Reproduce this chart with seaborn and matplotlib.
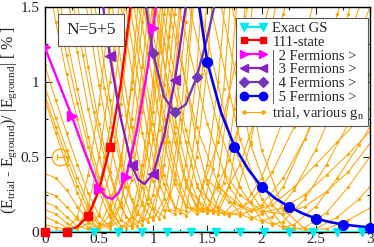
import matplotlib
matplotlib.use('Agg')
import matplotlib.pyplot as plt
import seaborn as sns
import pandas as pd
from matplotlib.lines import Line2D

# exact ground state (all on zero)
gs_x = [0, 0.225, 0.45, 0.675, 0.9, 1.125, 1.35, 1.575, 1.8, 2.025, 2.25, 2.475, 2.7, 2.925]
gs_y = [0] * len(gs_x)

# 111-state
s111_x = [0, 0.2, 0.4, 0.6]
s111_y = [0, 0.003, 0.11, 0.57]
s111_line_x = [0, 0.1, 0.2, 0.3, 0.4, 0.5, 0.6, 0.7, 0.8]
s111_line_y = [0, 0, 0.003, 0.035, 0.11, 0.28, 0.57, 0.98, 1.56]

# |2 Fermions>
f2_x = [0, 0.25, 0.5, 0.75, 1.0]
f2_y = [1.23, 0.77, 0.29, 0.37, 1.36]
f2_line_x = [0, 0.125, 0.25, 0.375, 0.5, 0.56, 0.62, 0.68, 0.75, 0.85, 0.95, 1.0, 1.05]
f2_line_y = [1.23, 1.0, 0.77, 0.52, 0.29, 0.235, 0.22, 0.26, 0.37, 0.68, 1.1, 1.36, 1.65]

# |3 Fermions>
f3_x = [0.6, 0.8, 1.0, 1.2]
f3_y = [1.17, 0.45, 0.39, 1.01]
f3_line_x = [0.52, 0.6, 0.7, 0.8, 0.86, 0.92, 1.0, 1.1, 1.2, 1.3, 1.33]
f3_line_y = [1.6, 1.17, 0.76, 0.45, 0.35, 0.32, 0.39, 0.64, 1.01, 1.5, 1.65]

# |4 Fermions>
f4_x = [1.0, 1.2, 1.4]
f4_y = [1.19, 0.80, 1.03]
f4_line_x = [0.9, 1.0, 1.1, 1.2, 1.3, 1.4, 1.5, 1.6]
f4_line_y = [1.65, 1.19, 0.9, 0.80, 0.85, 1.03, 1.3, 1.62]

# |5 Fermions>
f5_x = [1.5, 1.75, 2.0, 2.25, 2.5, 2.75, 3.0]
f5_y = [1.13, 0.57, 0.30, 0.17, 0.09, 0.05, 0.03]
f5_line_x = [1.4, 1.5, 1.625, 1.75, 1.875, 2.0, 2.125, 2.25, 2.375, 2.5, 2.625, 2.75, 2.875, 3.0]
f5_line_y = [1.62, 1.13, 0.8, 0.57, 0.42, 0.30, 0.225, 0.17, 0.125, 0.09, 0.067, 0.05, 0.04, 0.03]

trial_left = [
    [(0, 0.39), (0.1, 0.36), (0.2, 0.28), (0.3, 0.17), (0.4, 0.07), (0.5, 0.02), (0.6, 0.05), (0.7, 0.2), (0.8, 0.5), (0.9, 0.95), (1.0, 1.55)],
    [(0, 0.27), (0.1, 0.24), (0.2, 0.17), (0.3, 0.09), (0.4, 0.03), (0.5, 0.04), (0.6, 0.18), (0.7, 0.48), (0.8, 0.95), (0.9, 1.55)],
    [(0, 0.2), (0.1, 0.17), (0.2, 0.1), (0.3, 0.04), (0.4, 0.02), (0.5, 0.12), (0.6, 0.4), (0.7, 0.85), (0.8, 1.5)],
    [(0, 0.15), (0.1, 0.12), (0.2, 0.06), (0.3, 0.02), (0.4, 0.06), (0.5, 0.28), (0.6, 0.7), (0.7, 1.3), (0.75, 1.6)],
    [(0, 0.1), (0.1, 0.07), (0.2, 0.03), (0.3, 0.03), (0.4, 0.17), (0.5, 0.5), (0.6, 1.0), (0.7, 1.6)],
    [(0, 0.05), (0.1, 0.03), (0.2, 0.02), (0.3, 0.1), (0.4, 0.38), (0.5, 0.85), (0.6, 1.5)],
    [(0, 1.11), (0.1, 0.88), (0.2, 0.66), (0.3, 0.45), (0.4, 0.26), (0.5, 0.11), (0.6, 0.03), (0.7, 0.08), (0.8, 0.35), (0.9, 0.8), (1.0, 1.45), (1.05, 1.8)],
    [(0, 0.97), (0.1, 0.76), (0.2, 0.55), (0.3, 0.36), (0.4, 0.19), (0.5, 0.06), (0.6, 0.02), (0.7, 0.18), (0.8, 0.55), (0.9, 1.1), (0.97, 1.6)],
    [(0, 0.91), (0.1, 0.7), (0.2, 0.5), (0.3, 0.31), (0.4, 0.15), (0.5, 0.04), (0.6, 0.06), (0.7, 0.3), (0.8, 0.75), (0.9, 1.4), (0.93, 1.6)],
    [(0, 0.88), (0.1, 0.66), (0.2, 0.45), (0.3, 0.26), (0.4, 0.1), (0.5, 0.02), (0.6, 0.12), (0.7, 0.45), (0.8, 1.0), (0.87, 1.6)],
]
trial_mid = [
    [(0.05, 1.6), (0.1, 1.4), (0.2, 1.05), (0.3, 0.75), (0.4, 0.48), (0.5, 0.27), (0.6, 0.1), (0.7, 0.02), (0.8, 0.1), (0.9, 0.45), (1.0, 1.0), (1.08, 1.6)],
    [(0.09, 1.6), (0.2, 1.18), (0.3, 0.86), (0.4, 0.57), (0.5, 0.33), (0.6, 0.15), (0.7, 0.04), (0.75, 0.03), (0.85, 0.18), (0.95, 0.6), (1.05, 1.2), (1.1, 1.6)],
    [(0.12, 1.6), (0.2, 1.3), (0.3, 0.95), (0.4, 0.63), (0.5, 0.37), (0.6, 0.17), (0.7, 0.04), (0.8, 0.04), (0.9, 0.3), (1.0, 0.8), (1.1, 1.45), (1.13, 1.6)],
    [(0.2, 1.6), (0.3, 1.2), (0.4, 0.82), (0.5, 0.5), (0.6, 0.25), (0.7, 0.08), (0.8, 0.03), (0.9, 0.2), (1.0, 0.62), (1.1, 1.25), (1.15, 1.6)],
    [(0.24, 1.6), (0.35, 1.18), (0.45, 0.8), (0.55, 0.5), (0.65, 0.26), (0.75, 0.1), (0.85, 0.04), (0.95, 0.22), (1.05, 0.68), (1.15, 1.3), (1.19, 1.6)],
    [(0.28, 1.6), (0.4, 1.1), (0.5, 0.72), (0.6, 0.4), (0.7, 0.17), (0.8, 0.05), (0.9, 0.08), (1.0, 0.4), (1.1, 0.98), (1.18, 1.6)],
    [(0.36, 1.6), (0.5, 0.98), (0.6, 0.6), (0.7, 0.3), (0.8, 0.1), (0.9, 0.05), (1.0, 0.25), (1.1, 0.75), (1.2, 1.45), (1.22, 1.6)],
    [(0.4, 1.6), (0.55, 0.96), (0.65, 0.6), (0.75, 0.3), (0.85, 0.12), (0.95, 0.07), (1.05, 0.3), (1.15, 0.85), (1.25, 1.55)],
    [(0.44, 1.6), (0.6, 0.88), (0.7, 0.5), (0.8, 0.22), (0.9, 0.08), (1.0, 0.1), (1.1, 0.45), (1.2, 1.05), (1.27, 1.6)],
    [(0.52, 1.6), (0.7, 0.78), (0.8, 0.42), (0.9, 0.18), (1.0, 0.08), (1.1, 0.22), (1.2, 0.7), (1.3, 1.4), (1.32, 1.6)],
    [(0.56, 1.6), (0.75, 0.78), (0.85, 0.42), (0.95, 0.19), (1.05, 0.09), (1.15, 0.25), (1.25, 0.75), (1.35, 1.45), (1.37, 1.6)],
    [(0.6, 1.6), (0.8, 0.7), (0.9, 0.38), (1.0, 0.16), (1.1, 0.1), (1.2, 0.35), (1.3, 0.9), (1.38, 1.6)],
    [(0.68, 1.6), (0.9, 0.66), (1.0, 0.34), (1.1, 0.15), (1.2, 0.12), (1.3, 0.45), (1.4, 1.05), (1.45, 1.6)],
    [(0.72, 1.6), (0.95, 0.66), (1.05, 0.34), (1.15, 0.15), (1.25, 0.13), (1.35, 0.45), (1.45, 1.05), (1.5, 1.6)],
    [(0.76, 1.6), (1.0, 0.62), (1.1, 0.32), (1.2, 0.16), (1.3, 0.14), (1.4, 0.5), (1.5, 1.1), (1.55, 1.6)],
    [(0.84, 1.6), (1.1, 0.6), (1.2, 0.32), (1.3, 0.17), (1.4, 0.14), (1.5, 0.45), (1.6, 1.0), (1.67, 1.6)],
    [(0.88, 1.6), (1.15, 0.6), (1.25, 0.32), (1.35, 0.16), (1.45, 0.14), (1.55, 0.42), (1.65, 0.95), (1.72, 1.6)],
    [(0.92, 1.6), (1.2, 0.6), (1.3, 0.32), (1.4, 0.16), (1.5, 0.13), (1.6, 0.38), (1.7, 0.9), (1.78, 1.6)],
    [(0.96, 1.6), (1.25, 0.6), (1.35, 0.32), (1.45, 0.16), (1.55, 0.13), (1.65, 0.33), (1.75, 0.82), (1.85, 1.5), (1.87, 1.6)],
    [(1.0, 1.6), (1.3, 0.6), (1.4, 0.32), (1.5, 0.16), (1.6, 0.12), (1.7, 0.3), (1.8, 0.75), (1.9, 1.4), (1.93, 1.6)],
    [(0.8, 1.6), (1.0, 0.72), (1.1, 0.38), (1.2, 0.17), (1.3, 0.11), (1.4, 0.18), (1.6, 0.6), (1.8, 1.25), (1.9, 1.6)],
    [(0.9, 1.6), (1.1, 0.7), (1.2, 0.38), (1.3, 0.18), (1.4, 0.12), (1.5, 0.16), (1.7, 0.48), (1.9, 1.0), (2.1, 1.6)],
    [(1.0, 1.6), (1.2, 0.66), (1.3, 0.35), (1.4, 0.17), (1.5, 0.13), (1.6, 0.17), (1.8, 0.45), (2.0, 0.88), (2.2, 1.45), (2.25, 1.6)],
    [(1.05, 1.6), (1.3, 0.68), (1.45, 0.3), (1.55, 0.15), (1.65, 0.12), (1.75, 0.2), (1.9, 0.6), (2.05, 1.15), (2.15, 1.6)],
    [(1.15, 1.6), (1.4, 0.6), (1.5, 0.32), (1.6, 0.16), (1.7, 0.11), (1.8, 0.13), (2.0, 0.36), (2.2, 0.75), (2.4, 1.28), (2.5, 1.6)],
]
trial_right = [
    [(1.1, 1.6), (1.4, 0.7), (1.6, 0.32), (1.8, 0.12), (1.9, 0.09), (2.0, 0.12), (2.2, 0.3), (2.4, 0.62), (2.6, 1.0), (2.8, 1.45), (2.85, 1.6)],
    [(1.2, 1.6), (1.5, 0.72), (1.7, 0.3), (1.9, 0.1), (2.0, 0.07), (2.1, 0.1), (2.3, 0.28), (2.5, 0.55), (2.7, 0.88), (2.9, 1.3), (3.0, 1.5)],
    [(1.3, 1.6), (1.6, 0.7), (1.8, 0.3), (2.0, 0.08), (2.1, 0.05), (2.2, 0.07), (2.4, 0.22), (2.6, 0.45), (2.8, 0.72), (3.0, 1.05)],
    [(1.4, 1.6), (1.7, 0.66), (1.9, 0.26), (2.1, 0.06), (2.2, 0.03), (2.3, 0.05), (2.5, 0.17), (2.7, 0.36), (2.9, 0.58), (3.0, 0.7)],
    [(1.5, 1.6), (1.8, 0.62), (2.0, 0.22), (2.2, 0.04), (2.3, 0.02), (2.4, 0.03), (2.6, 0.13), (2.8, 0.3), (3.0, 0.5)],
    [(1.6, 1.6), (1.9, 0.58), (2.1, 0.18), (2.3, 0.03), (2.4, 0.01), (2.5, 0.02), (2.7, 0.1), (2.9, 0.22), (3.0, 0.3)],
    [(1.7, 1.6), (2.0, 0.55), (2.2, 0.15), (2.4, 0.02), (2.6, 0.02), (2.8, 0.08), (3.0, 0.16)],
    [(1.3, 0.3), (1.5, 0.15), (1.7, 0.12), (1.9, 0.2), (2.1, 0.4), (2.3, 0.7), (2.5, 1.05), (2.7, 1.45), (2.75, 1.6)],
    [(1.4, 0.3), (1.6, 0.15), (1.8, 0.11), (2.0, 0.18), (2.2, 0.36), (2.4, 0.62), (2.6, 0.92), (2.8, 1.28), (2.95, 1.6)],
    [(1.5, 0.35), (1.7, 0.2), (1.9, 0.14), (2.1, 0.18), (2.3, 0.3), (2.5, 0.45), (2.7, 0.6), (2.9, 0.75), (3.0, 0.82)],
    [(1.6, 0.3), (1.8, 0.18), (2.0, 0.13), (2.2, 0.16), (2.4, 0.25), (2.6, 0.38), (2.8, 0.52), (3.0, 0.67)],
    [(1.65, 0.4), (1.8, 0.25), (2.0, 0.14), (2.2, 0.12), (2.4, 0.17), (2.6, 0.27), (2.8, 0.4), (3.0, 0.59)],
]

orange = '#ffa500'
cyan = '#00e8f0'
magenta = '#ff00ff'
violet = '#8a1ecb'
purple = '#7236b8'
blue = '#0000ff'

sns.set_style('ticks')
plt.rcParams['font.family'] = ['Liberation Serif', 'DejaVu Serif']
plt.rcParams['mathtext.fontset'] = 'custom'
plt.rcParams['mathtext.rm'] = 'Liberation Serif'
plt.rcParams['mathtext.it'] = 'Liberation Serif:italic'
plt.rcParams['font.size'] = 9

fig = plt.figure(figsize=(3.74, 2.47), dpi=100)
ax = fig.add_axes([0.120, 0.0607, 0.869, 0.911])

rows = []
for i, curve in enumerate(trial_left + trial_mid + trial_right):
    for x, y in curve:
        rows.append((i, x, y))
trial = pd.DataFrame(rows, columns=['curve', 'g', 'dE'])
sns.lineplot(data=trial, x='g', y='dE', units='curve', estimator=None, sort=False,
             color=orange, lw=0.75, marker='o', ms=2.3, mec=orange, mew=0,
             legend=False, ax=ax, zorder=1)

# circled error bar symbol
ax.errorbar([0.14], [0.5], xerr=[0.032], fmt='none', ecolor=orange, elinewidth=0.9,
            capsize=2.5, capthick=0.9, zorder=2)
ax.plot([0.14], [0.5], 'o', mfc='none', mec=orange, ms=12, mew=0.9, zorder=2)

sns.lineplot(x=s111_line_x, y=s111_line_y, sort=False, color='red', lw=1.7, ax=ax, zorder=4)
sns.lineplot(x=f2_line_x, y=f2_line_y, sort=False, color=magenta, lw=1.7, ax=ax, zorder=4)
sns.lineplot(x=f3_line_x, y=f3_line_y, sort=False, color=violet, lw=1.7, ax=ax, zorder=4)
sns.lineplot(x=f4_line_x, y=f4_line_y, sort=False, color=purple, lw=1.7, ax=ax, zorder=4)
sns.lineplot(x=f5_line_x, y=f5_line_y, sort=False, color=blue, lw=1.9, ax=ax, zorder=4)

ax.axhline(0, color=cyan, lw=2.2, zorder=5)
ax.plot(gs_x, gs_y, 'v', color=cyan, ms=6, clip_on=False, zorder=6)
ax.plot(s111_x, s111_y, 's', color='red', ms=6, clip_on=False, zorder=7)
ax.plot(f2_x, f2_y, '>', color=magenta, ms=7, zorder=7)
ax.plot(f3_x, f3_y, '<', color=violet, ms=7, zorder=7)
ax.plot(f4_x, f4_y, 'D', color=purple, ms=5.5, zorder=7)
ax.plot(f5_x, f5_y, 'o', color=blue, ms=7, clip_on=False, zorder=7)

ax.set_xlim(0, 3)
ax.set_ylim(0, 1.5)
ax.set_xticks([0, 0.5, 1, 1.5, 2, 2.5, 3])
ax.set_xticklabels(['0', '0.5', '1', '1.5', '2', '2.5', '3'])
ax.set_yticks([0, 0.5, 1, 1.5])
ax.set_yticklabels(['0', '0.5', '1', '1.5'])
ax.set_xticks([0.25, 0.75, 1.25, 1.75, 2.25, 2.75], minor=True)
ax.set_yticks([0.25, 0.75, 1.25], minor=True)
ax.tick_params(which='both', direction='in', top=True, right=True, labelsize=11, width=0.8)
ax.tick_params(axis='x', pad=1)
ax.tick_params(axis='y', pad=4)
ax.tick_params(which='major', length=5)
ax.tick_params(which='minor', length=2.5)
for s in ax.spines.values():
    s.set_linewidth(1.0)
    s.set_color('black')
ax.set_xlabel('')
ax.set_ylabel(r'(E$_{\mathrm{trial}}$ - E$_{\mathrm{ground}}$)/ |E$_{\mathrm{ground}}$| [ % ]',
              fontsize=11.5, labelpad=1)

ax.text(0.142, 0.898, 'N=5+5', transform=ax.transAxes, ha='center', va='center', fontsize=12.5,
        bbox=dict(boxstyle='square,pad=0.45', fc='white', ec='#555555', lw=0.8), zorder=10)

handles = [
    Line2D([], [], color=cyan, marker='v', ms=6, lw=1.6),
    Line2D([], [], color='red', marker='s', ms=5, lw=1.6),
    Line2D([], [], color=magenta, marker='>', ms=6, lw=1.6),
    Line2D([], [], color=violet, marker='<', ms=6, lw=1.6),
    Line2D([], [], color=purple, marker='D', ms=5, lw=1.6),
    Line2D([], [], color=blue, marker='o', ms=6, lw=1.6),
    Line2D([], [], color=orange, marker='o', ms=2.2, lw=0.8),
]
labels = ['Exact GS', '111-state', '| 2 Fermions >', '| 3 Fermions >', '| 4 Fermions >',
          '| 5 Fermions >', r'trial, various g$_{\mathrm{n}}$']
leg = ax.legend(handles, labels, loc='upper right', bbox_to_anchor=(0.994, 0.952), numpoints=2,
                fontsize=10.5, handlelength=1.9, handletextpad=0.35, labelspacing=0.05,
                borderpad=0.25, borderaxespad=0, fancybox=False, framealpha=1, edgecolor='#555555')
leg.get_frame().set_linewidth(0.8)
leg.set_zorder(10)

fig.savefig('out.png', dpi=100)
